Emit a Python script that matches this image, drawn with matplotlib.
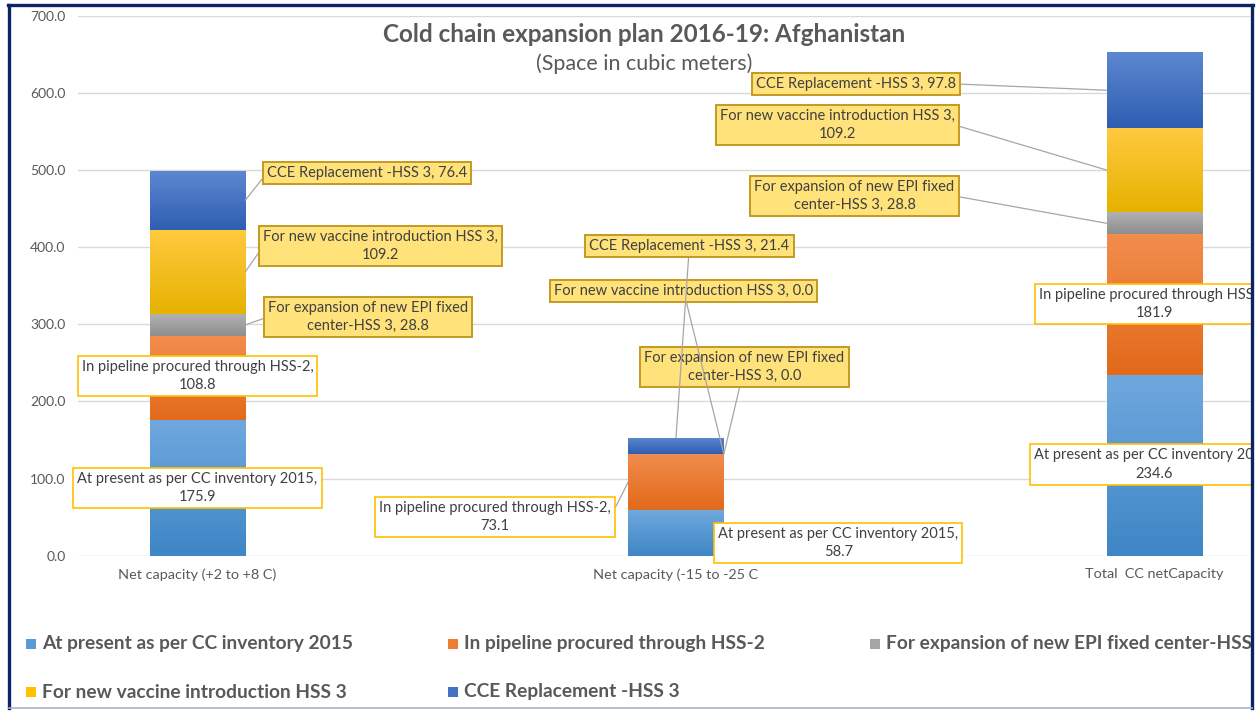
import numpy as np
import matplotlib
matplotlib.use("Agg")
import matplotlib.pyplot as plt
from matplotlib.colors import LinearSegmentedColormap
from matplotlib.patches import Rectangle
from matplotlib.lines import Line2D

# ---------------- data ----------------
categories = ["Net capacity (+2 to +8 C)", "Net capacity (-15 to -25 C", "Total  CC netCapacity"]
series_names = [
    "At present as per CC inventory 2015",
    "In pipeline procured through HSS-2",
    "For expansion of new EPI fixed center-HSS 3",
    "For new vaccine introduction HSS 3",
    "CCE Replacement -HSS 3",
]
at_present = [175.9, 58.7, 234.6]
pipeline = [108.8, 73.1, 181.9]
epi_expansion = [28.8, 0.0, 28.8]
new_vaccine = [109.2, 0.0, 109.2]
cce_replacement = [76.4, 21.4, 97.8]
y_ticks = [0, 100, 200, 300, 400, 500, 600, 700]
title = "Cold chain expansion plan 2016-19: Afghanistan"
subtitle = "(Space in cubic meters)"

series_values = [at_present, pipeline, epi_expansion, new_vaccine, cce_replacement]

# ---------------- styles ----------------
base_colors = ["#5B9BD5", "#ED7D31", "#A5A5A5", "#FFC000", "#4472C4"]
grad_colors = [("#3F86C6", "#6FA8DE"), ("#E26A1A", "#F28D4E"), ("#8E8E8E", "#B3B3B3"),
               ("#E6B200", "#FFCA3F"), ("#2F5EB2", "#5C87D1")]
FONT = ["Lato", "DejaVu Sans"]
plt.rcParams["font.family"] = FONT
TXT = "#595959"
LBL = "#404040"

W, H = 1257, 711
fig = plt.figure(figsize=(W / 100, H / 100), dpi=100)
fx = lambda px: px / W
fy = lambda py: 1 - py / H

ax_left, ax_right, ax_top, ax_bot = 78, 1250, 15.7, 555.7
ax = fig.add_axes([fx(ax_left), fy(ax_bot), fx(ax_right) - fx(ax_left), fy(ax_top) - fy(ax_bot)])

x = np.arange(len(categories))
bar_w = 0.2
bottoms = np.zeros(len(categories))
containers = []
for vals, col, (c0, c1) in zip(series_values, base_colors, grad_colors):
    bc = ax.bar(x, vals, bar_w, bottom=bottoms, color=col, zorder=2, linewidth=0)
    cmap = LinearSegmentedColormap.from_list("g", [c0, c1])
    grad = np.linspace(0, 1, 64).reshape(-1, 1)
    for p in bc.patches:
        if p.get_height() <= 0:
            continue
        im = ax.imshow(grad, cmap=cmap, origin="lower", aspect="auto", zorder=2.1,
                       extent=(p.get_x(), p.get_x() + p.get_width(), p.get_y(), p.get_y() + p.get_height()))
        im.set_clip_path(p)
    containers.append((bc, bottoms.copy(), np.array(vals)))
    bottoms = bottoms + np.array(vals)

ax.set_xlim(-0.2497, 2.1996)
ax.set_ylim(0, 700)
ax.set_yticks(y_ticks)
ax.set_yticklabels([f"{t:.1f}" for t in y_ticks])
ax.set_xticks(x)
ax.set_xticklabels(categories)
ax.tick_params(axis="both", length=0, colors=TXT)
ax.tick_params(axis="y", pad=9, labelsize=10)
ax.tick_params(axis="x", pad=9, labelsize=10.4)
for s in ax.spines.values():
    s.set_visible(False)
ax.grid(axis="y", color="#D9D9D9", linewidth=1.0, zorder=0)
ax.set_axisbelow(True)

# ---------------- data labels ----------------
# (series, category): (text x [category units], text y [value units], anchor, relpos, wrap)
label_layout = {
    (0, 0): (0.0, 87.8, None, None, "value"),
    (1, 0): (0.0, 233.0, None, None, "value"),
    (2, 0): (0.356, 309.5, "right", (0, 0.5), "name"),
    (3, 0): (0.383, 401.5, "right", (0, 0.5), "value"),
    (4, 0): (0.354, 496.0, "right", (0, 0.5), None),
    (0, 1): (1.339, 16.5, None, None, "value"),
    (1, 1): (0.621, 50.2, "left", (1, 0.5), "value"),
    (2, 1): (1.143, 244.7, "right_bottom", (0.5, 0.5), "name"),
    (3, 1): (1.016, 343.0, "right_bottom", (0.5, 0.5), None),
    (4, 1): (1.028, 401.5, "top", (0.5, 0.5), None),
    (0, 2): (2.0, 118.2, None, None, "value"),
    (1, 2): (2.0, 326.2, None, None, "value"),
    (2, 2): (1.373, 466.3, "left", (1, 0.5), "name"),
    (3, 2): (1.337, 558.4, "left", (1, 0.5), "value"),
    (4, 2): (1.377, 611.5, "left", (1, 0.5), None),
}

def label_text(name, v, wrap):
    if wrap == "value":
        return f"{name},\n{v:.1f}"
    if wrap == "name":
        a, b = name.split(" center")
        return f"{a}\ncenter{b}, {v:.1f}"
    return f"{name}, {v:.1f}"

for si, (bc, bots, vals) in enumerate(containers):
    for ci in range(len(categories)):
        tx, ty, anch, relpos, wrap = label_layout[(si, ci)]
        b, v = bots[ci], vals[ci]
        if anch == "right":
            axy = (x[ci] + bar_w / 2, b + v / 2)
        elif anch == "left":
            axy = (x[ci] - bar_w / 2, b + v / 2)
        elif anch == "right_bottom":
            axy = (x[ci] + bar_w / 2, b)
        elif anch == "top":
            axy = (x[ci], b + v)
        else:
            axy = (tx, ty)
        pad = 0.28 if not (si == 4 and ci == 1) else 0.28
        if si < 2:
            box = dict(boxstyle=f"square,pad={pad}", fc="white", ec="#FFC000", lw=1.2)
        else:
            box = dict(boxstyle=f"square,pad={pad}", fc="#FFE27A", ec="#C49A22", lw=1.4)
        kw = {}
        if anch is not None:
            kw["arrowprops"] = dict(arrowstyle="-", color="#A6A6A6", lw=0.9,
                                    shrinkA=0, shrinkB=0, relpos=relpos)
        ax.annotate(label_text(series_names[si], v, wrap), xy=axy, xytext=(tx, ty),
                    xycoords="data", textcoords="data", ha="center", va="center",
                    fontsize=10.5, color=LBL, bbox=box, zorder=5, linespacing=1.4,
                    annotation_clip=False, **kw)

# ---------------- titles ----------------
fig.text(fx(644), fy(34), title, ha="center", va="center", fontsize=17.5, fontweight="bold", color=TXT)
fig.text(fx(644), fy(64), subtitle, ha="center", va="center", fontsize=15.5, color=TXT)

# ---------------- legend ----------------
for i, (name, col) in enumerate(zip(series_names, base_colors)):
    row, colm = divmod(i, 3)
    lx = 26 + colm * 422
    ly = 644 + row * 48
    fig.add_artist(Rectangle((fx(lx), fy(ly + 5)), fx(10), 10 / H, transform=fig.transFigure,
                             fc=col, ec="none", zorder=3))
    fig.text(fx(lx + 16), fy(ly), name, ha="left", va="center", fontsize=13.8,
             fontweight="bold", color=TXT, zorder=3)

# ---------------- frame / mask ----------------
fig.add_artist(Rectangle((fx(1252), 0), 1, 1, transform=fig.transFigure, fc="white", ec="none", zorder=20))
fig.add_artist(Rectangle((0, 0), 1, fy(708), transform=fig.transFigure, fc="white", ec="none", zorder=20))
navy = "#0D2463"
fig.add_artist(Line2D([fx(8.5), fx(8.5)], [fy(4.5), fy(708)], transform=fig.transFigure, color=navy, lw=2.4, zorder=21))
fig.add_artist(Line2D([fx(7.5), fx(1252.5)], [fy(5), fy(5)], transform=fig.transFigure, color=navy, lw=2.4, zorder=21))
fig.add_artist(Line2D([fx(1251.5), fx(1251.5)], [fy(4.5), fy(708)], transform=fig.transFigure, color=navy, lw=2.4, zorder=21))
fig.add_artist(Line2D([fx(8.5), fx(1251.5)], [fy(707.5), fy(707.5)], transform=fig.transFigure, color="#A9B3CF", lw=1.2, zorder=21))

fig.savefig("out.png", dpi=100, facecolor="white")
